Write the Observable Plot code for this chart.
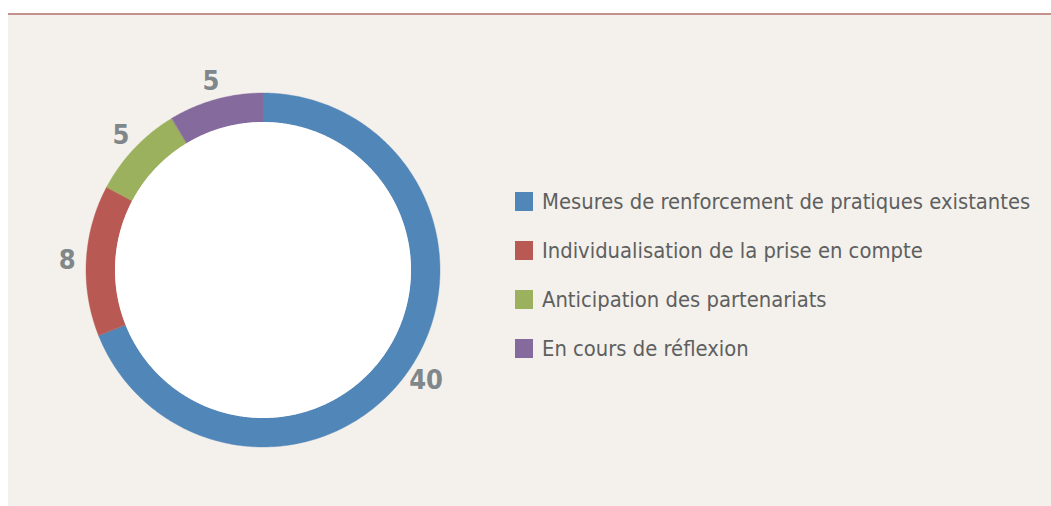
<!DOCTYPE html>
<html>
<head>
<meta charset="utf-8">
<script src="https://cdn.jsdelivr.net/npm/d3@7"></script>
<script src="https://cdn.jsdelivr.net/npm/@observablehq/plot@0.6"></script>
<style>
  html, body { margin: 0; padding: 0; background: #ffffff; }
  #panel {
    position: absolute; left: 8px; top: 13px; width: 1043px; height: 493px;
    background: #f4f1ec; border-top: 2px solid #c4918c; box-sizing: border-box;
  }
  #chart { position: absolute; left: 0; top: 0; }
  #legend {
    position: absolute; left: 507px; top: 162px;
    font-family: "DejaVu Sans Condensed", "DejaVu Sans", sans-serif; font-stretch: condensed;
    font-size: 21.8px; color: #5e6060;
  }
  .item { display: flex; align-items: center; height: 49px; white-space: nowrap; }
  .sw { width: 18px; height: 19px; margin-right: 9px; flex: none; }
</style>
</head>
<body>
<div id="panel">
  <div id="chart"></div>
  <div id="legend"></div>
</div>
<script>
const categories = [
  "Mesures de renforcement de pratiques existantes",
  "Individualisation de la prise en compte",
  "Anticipation des partenariats",
  "En cours de réflexion"
];
const values = [40, 8, 5, 5];
const palette = ["#5186b8", "#b85a53", "#9bb15d", "#856b9d"];

// Geometry (in scale units; outer radius = 1)
const OUTER = 1, INNER = 148 / 177, LABEL_R = 1.11;
const W = 520, H = 490;

const pie = d3.pie().sort(null).value(d => d.value);
const slices = pie(categories.map((c, i) => ({category: c, value: values[i]})));

// Ring segments: sample each slice's angular span
const ring = [];
for (const s of slices) {
  const n = Math.max(2, Math.ceil((s.endAngle - s.startAngle) / (Math.PI / 360)));
  for (let k = 0; k <= n; k++) {
    const a = s.startAngle + (s.endAngle - s.startAngle) * k / n;
    ring.push({
      category: s.data.category,
      x1: OUTER * Math.sin(a), y1: OUTER * Math.cos(a),
      x2: INNER * Math.sin(a), y2: INNER * Math.cos(a)
    });
  }
}
// White hole
const hole = d3.range(0, 721).map(k => {
  const a = k / 720 * 2 * Math.PI;
  return {x1: INNER * Math.sin(a), y1: INNER * Math.cos(a), x2: 0, y2: 0};
});
const labels = slices.map(s => {
  const a = (s.startAngle + s.endAngle) / 2;
  return {x: LABEL_R * Math.sin(a), y: LABEL_R * Math.cos(a), text: String(s.data.value)};
});

const k = 177; // px per unit
const chart = Plot.plot({
  width: W, height: H,
  margin: 0,
  style: {background: "transparent", overflow: "visible"},
  x: {domain: [-255 / k, (W - 255) / k], axis: null},
  y: {domain: [-(H - 255) / k, 255 / k], axis: null},
  color: {domain: categories, range: palette},
  marks: [
    Plot.area(ring, {x1: "x1", y1: "y1", x2: "x2", y2: "y2", z: "category", fill: "category", stroke: "category", strokeWidth: 0.4, curve: "linear"}),
    Plot.area(hole, {x1: "x1", y1: "y1", x2: "x2", y2: "y2", fill: "#ffffff", curve: "linear"}),
    Plot.text(labels, {x: "x", y: "y", text: "text", fill: "#80878a", fontSize: 27, fontWeight: "bold",
      fontFamily: "DejaVu Sans Condensed, DejaVu Sans, sans-serif"})
  ]
});
document.getElementById("chart").appendChild(chart);

const legend = document.getElementById("legend");
categories.forEach((c, i) => {
  const item = document.createElement("div");
  item.className = "item";
  const sw = document.createElement("span");
  sw.className = "sw";
  sw.style.background = palette[i];
  const t = document.createElement("span");
  t.textContent = c;
  item.appendChild(sw);
  item.appendChild(t);
  legend.appendChild(item);
});
</script>
</body>
</html>
